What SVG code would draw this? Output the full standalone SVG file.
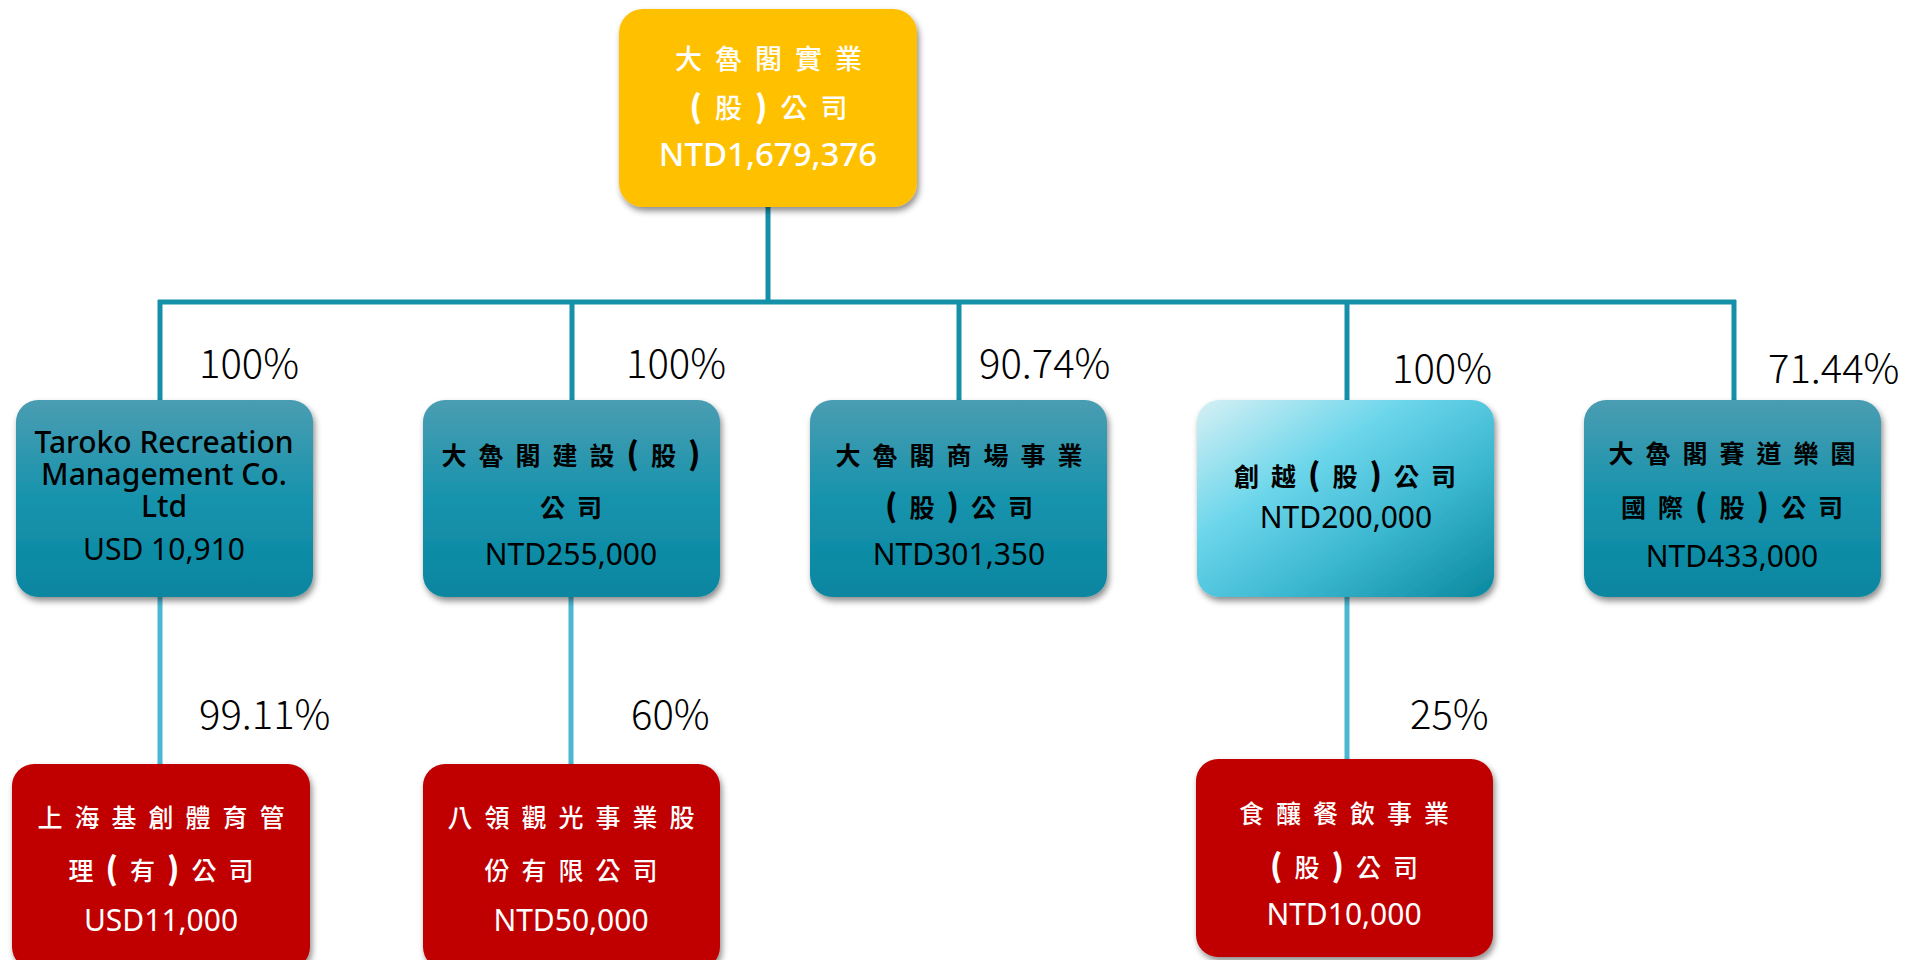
<svg xmlns="http://www.w3.org/2000/svg" width="1911" height="960" viewBox="0 0 1911 960">
<defs>
<linearGradient id="gBlue" x1="0" y1="0" x2="0" y2="1">
<stop offset="0" stop-color="#4a9db2"/>
<stop offset="0.5" stop-color="#1793ad"/>
<stop offset="1" stop-color="#0a86a0"/>
</linearGradient>
<linearGradient id="gLight" x1="0" y1="0" x2="1" y2="1">
<stop offset="0" stop-color="#d6f0f4"/>
<stop offset="0.35" stop-color="#6cd6eb"/>
<stop offset="0.65" stop-color="#3bb7d0"/>
<stop offset="1" stop-color="#0a889f"/>
</linearGradient>
<filter id="sh" x="-10%" y="-10%" width="125%" height="130%">
<feDropShadow dx="2" dy="4" stdDeviation="3" flood-color="#000" flood-opacity="0.45"/>
</filter>
</defs>
<style>
.box{filter:url(#sh)}
.top{fill:#ffc000}
.blue{fill:url(#gBlue)}
.light{fill:url(#gLight)}
.red{fill:#c00000}
.cjk{font-family:"Noto Sans CJK TC","Noto Sans",sans-serif;font-size:25px;letter-spacing:12px;text-anchor:middle}
.p{font-size:31px;font-weight:900}
.lat{font-family:"Noto Sans","Noto Sans CJK TC",sans-serif;font-size:30px;text-anchor:middle}
.en{font-size:30px;font-weight:500}
.dk{fill:#000;font-weight:bold}
.wh{fill:#fff;font-weight:500}
.latdk{fill:#000}
.latwh{fill:#fff}
.pct{font-family:"Noto Sans CJK TC","Noto Sans",sans-serif;font-size:40px;font-weight:300;fill:#000}
.c1{stroke:#1590a9;stroke-width:5;fill:none}
.c2{stroke:#4bb8d3;stroke-width:5;fill:none}
</style>
<rect width="1911" height="960" fill="#fff"/>
<g id="connectors">
<path class="c1" d="M768 207V302M158 302H1736M160 300V400M572 300V400M959 300V400M1347 300V400M1734 300V400"/>
<path class="c2" d="M160 597V764M571 597V764M1347 597V759"/>
</g>
<g id="labels">
<text class="pct" x="199" y="378">100%</text>
<text class="pct" x="626" y="378">100%</text>
<text class="pct" x="979" y="378">90.74%</text>
<text class="pct" x="1392" y="383">100%</text>
<text class="pct" x="1768" y="383">71.44%</text>
<text class="pct" x="199" y="729">99.11%</text>
<text class="pct" x="631" y="729">60%</text>
<text class="pct" x="1410" y="729">25%</text>
</g>
<g id="n_top">
<rect class="box top" x="619" y="9" width="298" height="198" rx="24"/>
<text class="cjk wh" x="775" y="69" style="font-size:27px;letter-spacing:13px">大魯閣實業</text>
<text class="cjk wh" x="775" y="118" style="font-size:27px;letter-spacing:13px"><tspan class="p">(</tspan>股<tspan class="p">)</tspan>公司</text>
<text class="lat latwh" x="768" y="166" style="font-size:33px;font-weight:500">NTD1,679,376</text>
</g>
<g id="n_taroko">
<rect class="box blue" x="16" y="400" width="297" height="197" rx="22"/>
<text class="lat latdk en" x="164" y="453">Taroko Recreation</text>
<text class="lat latdk en" x="164" y="485">Management Co.</text>
<text class="lat latdk en" x="164" y="517">Ltd</text>
<text class="lat latdk" x="164" y="560">USD 10,910</text>
</g>
<g id="n_jianshe">
<rect class="box blue" x="423" y="400" width="297" height="197" rx="22"/>
<text class="cjk dk" x="577" y="465">大魯閣建設<tspan class="p">(</tspan>股<tspan class="p">)</tspan></text>
<text class="cjk dk" x="577" y="517">公司</text>
<text class="lat latdk" x="571" y="565">NTD255,000</text>
</g>
<g id="n_mall">
<rect class="box blue" x="810" y="400" width="297" height="197" rx="22"/>
<text class="cjk dk" x="965" y="465">大魯閣商場事業</text>
<text class="cjk dk" x="965" y="517"><tspan class="p">(</tspan>股<tspan class="p">)</tspan>公司</text>
<text class="lat latdk" x="959" y="565">NTD301,350</text>
</g>
<g id="n_chuangyue">
<rect class="box light" x="1197" y="400" width="297" height="197" rx="22"/>
<text class="cjk dk" x="1351" y="486">創越<tspan class="p">(</tspan>股<tspan class="p">)</tspan>公司</text>
<text class="lat latdk" x="1346" y="528">NTD200,000</text>
</g>
<g id="n_track">
<rect class="box blue" x="1584" y="400" width="297" height="197" rx="22"/>
<text class="cjk dk" x="1738" y="463">大魯閣賽道樂園</text>
<text class="cjk dk" x="1738" y="517">國際<tspan class="p">(</tspan>股<tspan class="p">)</tspan>公司</text>
<text class="lat latdk" x="1732" y="567">NTD433,000</text>
</g>
<g id="n_shanghai">
<rect class="box red" x="12" y="764" width="298" height="205" rx="22"/>
<text class="cjk wh" x="167" y="827">上海基創體育管</text>
<text class="cjk wh" x="167" y="880">理<tspan class="p">(</tspan>有<tspan class="p">)</tspan>公司</text>
<text class="lat latwh" x="161" y="931">USD11,000</text>
</g>
<g id="n_baling">
<rect class="box red" x="423" y="764" width="297" height="205" rx="22"/>
<text class="cjk wh" x="577" y="827">八領觀光事業股</text>
<text class="cjk wh" x="577" y="880">份有限公司</text>
<text class="lat latwh" x="571" y="931">NTD50,000</text>
</g>
<g id="n_shirang">
<rect class="box red" x="1196" y="759" width="297" height="198" rx="22"/>
<text class="cjk wh" x="1350" y="823">食釀餐飲事業</text>
<text class="cjk wh" x="1350" y="877"><tspan class="p">(</tspan>股<tspan class="p">)</tspan>公司</text>
<text class="lat latwh" x="1344" y="925">NTD10,000</text>
</g>
</svg>
